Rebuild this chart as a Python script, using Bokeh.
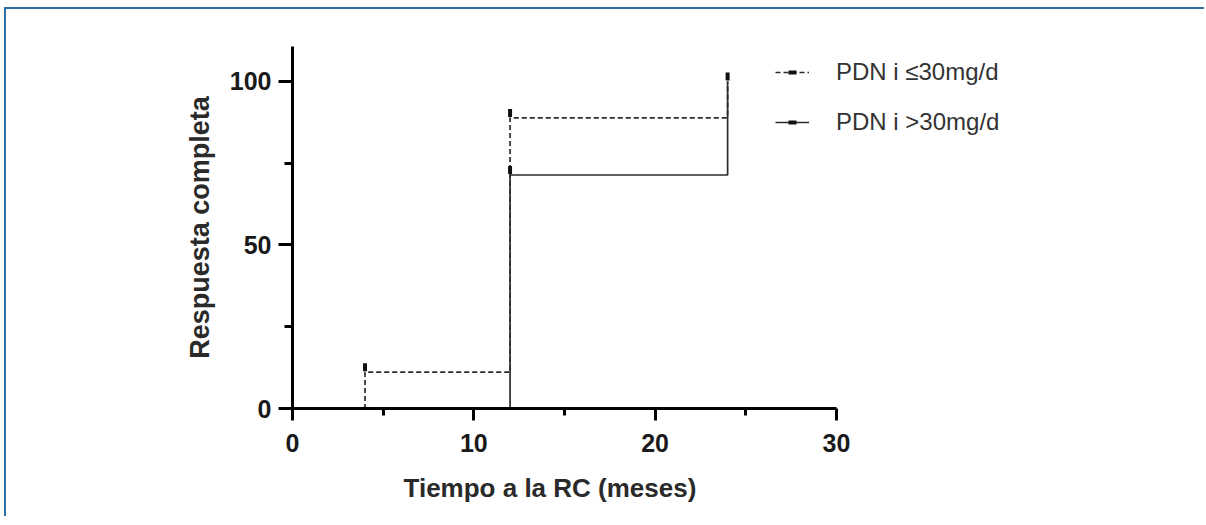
import numpy as np
from bokeh.plotting import figure
from bokeh.models import Range1d, FixedTicker, Legend, LegendItem, Title
from bokeh.embed import file_html
from bokeh.resources import INLINE

# ---- data ----
t_low = [0, 4, 12, 24]
s_low = [0, 11.1, 88.9, 100]
cens_t_low = [4, 12]
cens_s_low = [11.1, 88.9]

t_high = [0, 12, 24]
s_high = [0, 71.4, 100]
cens_t_high = [12, 24]
cens_s_high = [71.4, 100]

label_low = "PDN i \u226430mg/d"
label_high = "PDN i >30mg/d"

x_ticks = [0, 10, 20, 30]
x_minor = [5, 15, 25]
y_ticks = [0, 50, 100]
y_minor = [25, 75]

x_title = "Tiempo a la RC (meses)"
y_title = "Respuesta completa"

mark_lift = 1.5  # censor tick sits just above the step level

FONT = "Liberation Sans"
LINE = "#2b2b2b"

p = figure(width=1200, height=509, output_backend="svg", toolbar_location=None,
           x_range=Range1d(0, 48.98), y_range=Range1d(0, 110.7),
           min_border_left=286, min_border_right=26,
           min_border_top=37, min_border_bottom=108)
p.margin = (7, 0, 0, 4)
p.outline_line_color = None
p.xgrid.visible = False
p.ygrid.visible = False
p.background_fill_color = "white"
p.border_fill_color = "white"
p.styles = {"border-top": "2px solid #2d6ea3", "border-left": "2px solid #2d6ea3",
            "box-sizing": "border-box"}

# steps
r_low = p.step(t_low, s_low, mode="after", line_color=LINE, line_width=1.7,
               line_dash="5 3")
r_high = p.step(t_high, s_high, mode="after", line_color=LINE, line_width=1.7)

m_low = p.scatter(cens_t_low, [v + mark_lift for v in cens_s_low], marker="dash",
                  angle=np.pi / 2, size=8, line_width=4, line_color="#111111")
m_high = p.scatter(cens_t_high, [v + mark_lift for v in cens_s_high], marker="dash",
                   angle=np.pi / 2, size=8, line_width=4, line_color="#111111")

# axes
for ax in (p.xaxis[0], p.yaxis[0]):
    ax.axis_line_width = 3
    ax.axis_line_color = "black"
    ax.major_tick_line_width = 3
    ax.minor_tick_line_width = 3
    ax.major_tick_line_color = "black"
    ax.minor_tick_line_color = "black"
    ax.major_tick_in = 0
    ax.minor_tick_in = 0
    ax.major_label_text_font = FONT
    ax.major_label_text_font_style = "bold"
    ax.major_label_text_font_size = "25px"
    ax.major_label_text_color = "#1a1a1a"
    ax.axis_label_text_font = FONT
    ax.axis_label_text_font_style = "bold"
    ax.axis_label_text_font_size = "27px"
    ax.axis_label_text_color = "#2a2a2a"

xa = p.xaxis[0]
xa.ticker = FixedTicker(ticks=x_ticks, minor_ticks=x_minor)
xa.bounds = (0, 30)
xa.major_tick_out = 12
xa.minor_tick_out = 7
xa.major_label_standoff = 13

ya = p.yaxis[0]
ya.ticker = FixedTicker(ticks=y_ticks, minor_ticks=y_minor)
ya.bounds = (0, 110.7)
ya.major_tick_out = 14
ya.minor_tick_out = 8
ya.major_label_standoff = 7
ya.axis_label = y_title
ya.axis_label_standoff = 12

# x-axis title centred on the 0-30 axis (not the wider frame)
xt = Title(text=x_title, align="left", offset=111, standoff=32,
           text_font=FONT, text_font_style="bold", text_font_size="26px",
           text_color="#2a2a2a")
p.add_layout(xt, "below")

legend = Legend(items=[LegendItem(label=label_low, renderers=[r_low, m_low]),
                       LegendItem(label=label_high, renderers=[r_high, m_high])],
                location=(483, 272), orientation="vertical")
legend.background_fill_alpha = 0
legend.border_line_color = None
legend.padding = 0
legend.margin = 0
legend.spacing = 22
legend.glyph_width = 34
legend.glyph_height = 20
legend.label_height = 20
legend.label_standoff = 27
legend.label_text_font = FONT
legend.label_text_font_size = "24px"
legend.label_text_color = "#333333"
p.add_layout(legend, "center")

open("out.html", "w").write(file_html(p, INLINE))
